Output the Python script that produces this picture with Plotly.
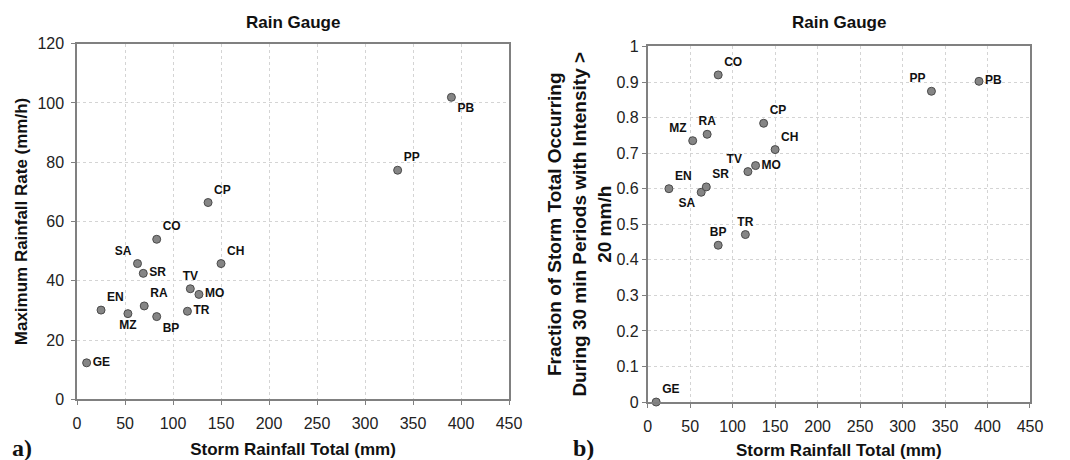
import plotly.graph_objects as go

sites = ["GE", "EN", "MZ", "SA", "RA", "SR", "BP", "CO", "TR", "TV", "MO", "CP", "CH", "PP", "PB"]
storm_total = [10, 25, 53, 63, 70, 69, 83, 83, 115, 118, 127, 136.5, 150, 334, 390]
max_rate = [12.3, 30.1, 28.9, 45.8, 31.5, 42.5, 27.9, 54.0, 29.7, 37.3, 35.4, 66.4, 45.8, 77.3, 101.9]
fraction = [0.0, 0.60, 0.735, 0.59, 0.753, 0.605, 0.441, 0.92, 0.471, 0.648, 0.665, 0.784, 0.71, 0.874, 0.902]

pos_a = ["middle right", "top right", "bottom center", "top left", "top right", "middle right",
         "bottom right", "top right", "middle right", "top center", "middle right", "top right",
         "top right", "top right", "bottom right"]
pos_b = ["top right", "top right", "top left", "bottom left", "top center", "top right",
         "top center", "top right", "top center", "top left", "middle right", "top right",
         "top right", "top left", "middle right"]

FONT = "Liberation Sans, Arial, sans-serif"
SERIF = "Liberation Serif, Times New Roman, serif"
marker = dict(size=8, color="#858585", line=dict(color="#4a4a4a", width=1))
lblfont = dict(family=FONT, size=12, color="#111111", weight="bold")

fig = go.Figure()
fig.add_trace(go.Scatter(x=storm_total, y=max_rate, mode="markers+text", text=sites,
                         textposition=pos_a, textfont=lblfont, marker=marker,
                         xaxis="x", yaxis="y", showlegend=False, cliponaxis=False))
fig.add_trace(go.Scatter(x=storm_total, y=fraction, mode="markers+text", text=sites,
                         textposition=pos_b, textfont=lblfont, marker=marker,
                         xaxis="x2", yaxis="y2", showlegend=False, cliponaxis=False))

axcommon = dict(showgrid=True, gridcolor="#d4d4d4", griddash="dot", gridwidth=1,
                showline=True, linecolor="#808080", linewidth=1.5, mirror=True,
                ticks="outside", ticklen=4, tickcolor="#808080", automargin=False,
                tickfont=dict(family=FONT, size=16, color="#222222"), zeroline=False)

def tf(size):
    return dict(family=FONT, size=size, color="#111111", weight="bold")

fig.update_layout(
    width=1070, height=460, margin=dict(l=0, r=0, t=0, b=0),
    plot_bgcolor="white", paper_bgcolor="white",
    xaxis=dict(domain=[0.072, 0.4757], range=[0, 450], dtick=50, anchor="y", ticklabelstandoff=5,
               title=dict(text="Storm Rainfall Total (mm)", font=tf(17), standoff=12), **axcommon),
    yaxis=dict(domain=[0.132, 0.905], range=[0, 120], dtick=20, anchor="x", ticklabelstandoff=4,
               title=dict(text="Maximum Rainfall Rate (mm/h)", font=tf(17), standoff=5), **axcommon),
    xaxis2=dict(domain=[0.6053, 0.9626], range=[0, 450], dtick=50, anchor="y2", ticklabelstandoff=5,
                title=dict(text="Storm Rainfall Total (mm)", font=tf(17), standoff=12), **axcommon),
    yaxis2=dict(domain=[0.126, 0.899], range=[0, 1], dtick=0.1, anchor="x2",
                title=dict(text="Fraction of Storm Total Occurring<br>During 30 min Periods with Intensity ><br>20 mm/h",
                           font=tf(19), standoff=0), **axcommon),
    annotations=[
        dict(text="Rain Gauge", x=0.5, y=1, xref="x domain", yref="paper", yanchor="top", yshift=-11,
             showarrow=False, font=tf(17)),
        dict(text="Rain Gauge", x=0.5, y=1, xref="x2 domain", yref="paper", yanchor="top", yshift=-11,
             showarrow=False, font=tf(17)),
        dict(text="a)", x=10 / 1070, y=0, xref="paper", yref="paper", xanchor="left", yanchor="bottom",
             yshift=-3, showarrow=False, font=dict(family=SERIF, size=24, color="#111111", weight="bold")),
        dict(text="b)", x=571 / 1070, y=0, xref="paper", yref="paper", xanchor="left", yanchor="bottom",
             yshift=-3, showarrow=False, font=dict(family=SERIF, size=24, color="#111111", weight="bold")),
    ],
)

fig.write_html("out.html")
